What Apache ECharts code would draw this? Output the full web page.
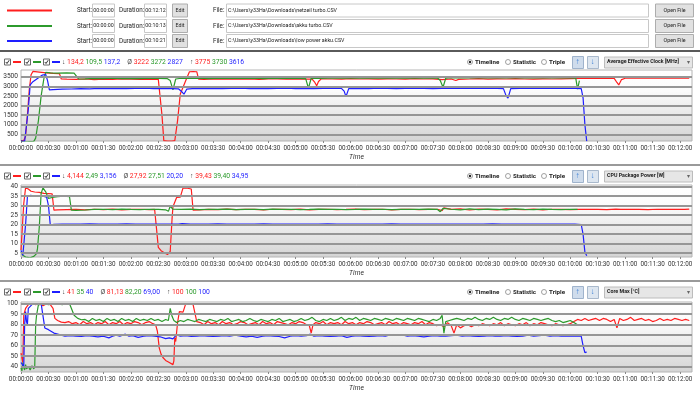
<!DOCTYPE html>
<html><head><meta charset="utf-8">
<script src="https://cdn.jsdelivr.net/npm/echarts@6/dist/echarts.min.js"></script>
<style>html,body{margin:0;padding:0;background:#fff;}#c{width:700px;height:393px;}</style>
</head><body><div id="c"></div>
<script>
// ---------- data ----------
const fileColors = ['#ff1e1e', '#2c9a2c', '#1e1eff'];
const startTimes = ['00:00:00', '00:00:00', '00:00:00'];
const durations = ['00:12:12', '00:10:13', '00:10:21'];
const files = ['C:\\Users\\y33Ha\\Downloads\\netzeil turbo.CSV', 'C:\\Users\\y33Ha\\Downloads\\akku turbo.CSV', 'C:\\Users\\y33Ha\\Downloads\\low power akku.CSV'];

const panelTitles = ['Average Effective Clock [MHz]', 'CPU Package Power [W]', 'Core Max [°C]'];
const clockStats = { min: ['134,2', '109,5', '137,2'], avg: ['3222', '3272', '2827'], max: ['3775', '3730', '3616'] };
const powerStats = { min: ['4,144', '2,49', '3,156'], avg: ['27,92', '27,51', '20,20'], max: ['39,43', '39,40', '34,95'] };
const tempStats = { min: ['41', '35', '40'], avg: ['81,13', '82,20', '69,00'], max: ['100', '100', '100'] };

const clockTicks = [500, 1000, 1500, 2000, 2500, 3000, 3500];
const powerTicks = [5, 10, 15, 20, 25, 30, 35, 40];
const tempTicks = [40, 50, 60, 70, 80, 90, 100];

const clockRed = [[0,170],[3,180],[5,400],[7,1500],[9,2800],[11,3600],[13,3775],[20,3740],[28,3700],[35,3670],[42,3660],[44,3380],[50,3370],[60,3360],[70,3380],[80,3350],[90,3370],[100,3360],[110,3380],[120,3370],[130,3360],[140,3375],[150,3360],[152,3300],[154,1500],[156,170],[160,150],[165,150],[168,170],[171,1200],[174,2600],[177,2950],[180,3300],[184,3760],[188,3770],[192,3760],[194,3370],[200,3360],[210,3380],[220,3370],[230,3390],[240,3370],[250,3380],[260,3360],[270,3390],[280,3380],[290,3370],[300,3380],[310,3370],[318,3380],[321,3200],[323,3030],[325,3250],[328,3390],[340,3380],[350,3370],[360,3400],[370,3380],[380,3390],[390,3370],[400,3390],[410,3380],[420,3370],[430,3400],[440,3380],[450,3390],[460,3350],[470,3380],[475,3300],[478,3360],[490,3380],[500,3400],[510,3370],[520,3390],[530,3380],[540,3400],[550,3380],[560,3370],[570,3390],[580,3380],[590,3390],[600,3400],[610,3410],[620,3420],[630,3410],[640,3420],[648,3410],[651,3200],[653,3070],[656,3350],[660,3420],[670,3430],[680,3420],[690,3430],[700,3420],[710,3430],[720,3420],[730,3430]];
const clockGreen = [[0,150],[3,110],[8,115],[14,130],[16,300],[19,1200],[22,2500],[25,3400],[27,3730],[32,3700],[40,3690],[50,3700],[58,3690],[60,3600],[63,3380],[70,3390],[80,3410],[90,3400],[100,3420],[110,3400],[120,3410],[130,3400],[140,3420],[150,3410],[160,3400],[163,3300],[166,2810],[169,3380],[175,3420],[185,3410],[195,3420],[205,3400],[215,3420],[225,3410],[235,3420],[245,3410],[255,3420],[265,3400],[275,3420],[285,3410],[295,3420],[305,3410],[311,3400],[314,2900],[317,3420],[325,3410],[335,3430],[345,3420],[355,3430],[365,3440],[375,3430],[385,3440],[395,3430],[405,3440],[415,3430],[425,3440],[435,3430],[445,3440],[455,3430],[458,3300],[461,2950],[464,3420],[470,3450],[480,3440],[490,3450],[500,3440],[510,3450],[520,3440],[530,3450],[540,3440],[550,3450],[560,3440],[570,3450],[580,3440],[590,3450],[600,3440],[606,3430],[608,2850],[610,3300]];
const clockBlue = [[0,150],[4,140],[6,137],[8,1800],[10,3070],[13,3240],[18,3410],[23,3580],[27,3616],[29,3300],[31,2810],[35,2830],[45,2850],[55,2860],[65,2880],[75,2870],[85,2890],[95,2880],[105,2890],[115,2880],[125,2890],[135,2900],[145,2880],[155,2890],[165,2880],[172,2870],[176,2700],[178,2590],[181,2850],[190,2890],[200,2880],[210,2890],[220,2880],[230,2890],[240,2900],[250,2880],[260,2890],[270,2880],[280,2890],[290,2900],[300,2880],[310,2890],[320,2880],[330,2890],[340,2900],[350,2890],[353,2750],[355,2460],[358,2880],[370,2890],[380,2880],[390,2900],[400,2890],[410,2880],[420,2890],[430,2900],[440,2890],[450,2880],[460,2890],[470,2900],[480,2890],[490,2900],[500,2890],[510,2900],[520,2890],[527,2880],[530,2500],[532,2380],[535,2880],[545,2890],[555,2900],[565,2890],[575,2900],[585,2890],[595,2900],[605,2890],[612,2880],[614,2400],[616,1000],[618,137]];

const powerRed = [[0,6.6],[2,6.8],[3,31],[5,39.4],[8,38.8],[11,37.6],[15,37.2],[20,37.0],[25,36.5],[30,36.4],[34,36.2],[36,27.6],[40,27.8],[50,27.9],[60,28.0],[70,27.8],[80,28.1],[90,27.9],[100,28.2],[110,27.8],[120,28.0],[130,28.1],[140,27.9],[146,28.0],[148,18],[150,8.0],[153,6.2],[157,5.0],[160,4.2],[163,5.8],[165,23],[166,29.4],[170,34.3],[174,34.5],[177,39.4],[182,39.2],[186,38.8],[188,27.6],[195,27.8],[205,28.0],[215,27.9],[225,28.2],[235,27.9],[245,28.1],[255,28.0],[265,27.8],[275,28.1],[285,28.0],[295,27.9],[305,28.2],[315,27.8],[325,28.0],[335,28.1],[345,27.9],[355,28.0],[365,28.2],[375,27.9],[385,28.0],[395,28.1],[405,27.8],[415,28.0],[425,28.1],[435,27.9],[445,28.0],[455,28.1],[460,27.4],[462,28.8],[470,28.0],[480,28.3],[490,27.7],[500,28.2],[510,28.0],[520,27.8],[530,28.3],[540,28.0],[550,27.9],[560,28.2],[570,27.8],[580,28.1],[590,28.0],[600,27.9],[610,28.0],[620,28.1],[630,28.0],[640,27.9],[650,28.2],[652,29.0],[655,28.0],[665,28.1],[675,28.0],[685,27.9],[695,28.1],[705,28.0],[715,28.1],[725,28.0],[730,28.2]];
const powerGreen = [[0,5.5],[2,3.8],[5,2.9],[10,2.5],[14,3.2],[17,4.7],[18,7.3],[20,18.8],[22,36.5],[24,39.4],[27,37.3],[30,33.8],[34,34.3],[40,34.7],[47,35.0],[53,34.7],[55,27.6],[60,27.5],[70,27.7],[80,28.0],[90,28.1],[100,27.9],[110,28.2],[120,28.0],[130,27.9],[140,28.1],[150,28.0],[158,27.8],[161,27.0],[163,29.7],[166,28.1],[175,28.0],[185,28.2],[195,27.9],[205,28.1],[215,28.0],[225,28.2],[235,27.9],[245,28.0],[255,28.1],[265,27.9],[275,28.2],[285,28.0],[295,28.1],[305,27.9],[315,28.0],[325,28.2],[335,28.0],[345,28.1],[355,27.9],[365,28.0],[375,28.2],[385,28.0],[395,28.1],[405,27.9],[415,28.0],[425,28.1],[435,28.0],[445,28.2],[455,28.0],[458,26.8],[461,28.6],[470,28.1],[480,27.8],[490,28.3],[500,27.9],[510,28.2],[520,28.0],[530,27.8],[540,28.3],[550,28.0],[560,27.9],[570,28.2],[580,28.0],[590,27.9],[600,28.1],[608,28.0]];
const powerBlue = [[0,6.4],[2,3.8],[3,3.2],[5,20],[7,34.7],[10,35.4],[15,35.2],[20,35.0],[25,34.9],[28,34.5],[30,30],[32,19.7],[36,20.1],[45,20.2],[55,20.3],[65,20.2],[75,20.4],[85,20.3],[95,20.2],[105,20.3],[115,20.4],[125,20.2],[135,20.3],[145,20.2],[155,20.3],[165,20.2],[172,20.3],[174,19.3],[176,20.5],[185,20.3],[195,20.2],[205,20.3],[215,20.4],[225,20.2],[235,20.3],[245,20.2],[255,20.3],[265,20.4],[275,20.2],[285,20.3],[295,20.2],[305,20.3],[315,20.2],[325,20.3],[335,20.4],[345,20.2],[355,20.3],[365,20.2],[375,20.3],[385,20.2],[395,20.3],[405,20.4],[415,20.2],[425,20.3],[435,20.2],[445,20.3],[455,20.2],[465,20.3],[475,20.2],[485,20.3],[495,20.2],[505,20.3],[515,20.4],[525,20.2],[535,20.3],[545,20.2],[555,20.3],[565,20.2],[575,20.3],[585,20.2],[595,20.3],[605,20.2],[612,20.0],[614,15],[616,5.5],[618,3.5]];

const tempRed = [[0,53],[1,52],[2,44],[3,89],[5,95.6],[8,99],[12,100],[16,99],[20,100],[24,98],[28,100],[32,99],[35,95.6],[37,86],[40,84],[44,82.5],[48,82],[52,83],[56,81],[60,82],[64,80],[68,83],[72,81],[76,82],[80,80],[84,82],[88,81],[92,83],[96,80],[100,82],[104,81],[108,83],[112,80],[116,82],[120,81],[124,83],[128,82],[132,80],[136,82],[140,83],[144,81],[147,80],[149,73.8],[151,58],[153,52],[155,48.8],[158,46],[162,44],[166,42],[167,45.6],[168,67.5],[169,64],[171,81.6],[173,92.5],[175,91],[177,92],[180,100],[184,100],[188,99],[190,100],[192,83],[196,82],[200,80],[204,83],[208,81],[212,82],[216,80],[220,83],[224,81],[228,82],[232,80],[236,81],[240,83],[244,82],[248,80],[252,81],[256,82],[260,80],[264,83],[268,81],[272,82],[276,80],[280,83],[284,82],[288,81],[292,80],[296,82],[300,81],[304,83],[308,82],[312,80],[315,79],[317,72],[319,80],[322,82],[326,81],[330,83],[334,80],[338,82],[342,81],[346,82],[350,80],[354,83],[358,81],[362,82],[366,80],[370,82],[374,81],[378,83],[382,82],[386,80],[390,81],[394,82],[398,80],[402,83],[406,81],[410,82],[414,80],[418,82],[422,81],[426,80],[430,82],[434,81],[438,83],[442,80],[446,82],[450,81],[454,79],[458,80],[462,78],[466,82],[470,79],[473,72],[476,80],[480,77],[484,79],[488,80],[492,78],[496,80],[500,79],[504,81],[508,80],[512,79],[516,81],[520,80],[524,82],[528,79],[532,81],[536,80],[540,79],[544,81],[548,80],[552,82],[556,79],[560,81],[564,80],[568,82],[572,81],[576,80],[580,79],[584,81],[588,80],[592,79],[596,80],[600,81],[604,83],[608,85],[612,84],[616,86],[620,84],[624,85],[628,86],[632,84],[636,86],[640,85],[644,83],[648,85],[651,77],[654,86],[658,84],[662,85],[666,87],[670,84],[674,85],[678,86],[682,84],[686,85],[690,83],[694,84],[698,86],[702,84],[706,85],[710,84],[714,86],[718,85],[722,84],[726,85],[730,84]];
const tempGreen = [[0,39],[1,36],[2,44],[3,39],[4,37],[5,42],[6,38],[8,40],[10,37],[12,41],[14,38],[15,40],[16,80],[17,89],[19,98.8],[21,100],[25,100],[30,99],[35,100],[40,100],[45,99],[50,100],[53,100],[55,95.6],[58,89],[62,86],[66,84.7],[70,85],[74,83],[78,86],[82,84],[86,85],[90,83],[94,86],[98,84],[102,85],[106,83],[110,86],[114,84],[118,85],[122,83],[126,86],[130,84],[134,85],[138,84],[142,86],[146,84],[150,85],[154,83],[158,85],[161,84],[163,95.6],[165,88],[167,84],[170,82],[174,84],[178,83],[182,85],[186,84],[190,83],[194,85],[198,84],[202,83],[206,85],[210,84],[214,83],[218,85],[222,84],[226,86],[230,83],[234,84],[238,85],[242,83],[246,84],[250,86],[254,84],[258,83],[262,85],[266,84],[270,83],[274,85],[278,84],[282,86],[286,83],[290,84],[294,85],[298,83],[302,84],[306,86],[310,84],[314,85],[318,87],[322,84],[326,83],[330,85],[334,84],[338,86],[342,84],[346,85],[350,87],[354,84],[358,86],[362,85],[366,87],[370,84],[374,86],[378,85],[382,84],[386,86],[390,85],[394,84],[398,86],[402,85],[406,84],[410,86],[414,85],[418,84],[422,86],[426,85],[430,84],[434,86],[438,85],[442,84],[446,83],[450,85],[454,84],[458,86],[460,89],[462,72],[464,83],[468,84],[472,85],[476,86],[480,85],[484,84],[488,86],[492,85],[496,87],[500,85],[504,84],[508,86],[512,85],[516,87],[520,85],[524,84],[528,86],[532,85],[536,87],[540,85],[544,84],[548,86],[552,85],[556,84],[560,86],[564,85],[568,84],[572,85],[576,86],[580,84],[584,83],[588,84],[592,82],[596,83],[600,84],[604,82],[608,80]];
const tempBlue = [[0,44],[1,43],[2,42.5],[3,40],[4,80],[5,92.5],[6,83],[7,80],[8,95.6],[10,97],[13,100],[18,100],[22,100],[24,99],[26,76.9],[30,75.3],[36,72],[42,70.6],[48,69],[54,69.5],[60,69],[66,68.8],[72,69.5],[78,69],[84,68.5],[90,69],[96,67.5],[100,69],[104,70],[108,69],[114,71],[118,69],[122,69.5],[128,68],[134,69],[140,69.5],[146,69],[152,68.5],[158,66.8],[162,67.5],[166,66.5],[170,70.6],[174,69],[180,69.5],[186,68.8],[192,69],[198,69.5],[204,69],[210,68.8],[216,69],[222,69.5],[228,69],[234,70],[240,69],[246,68.5],[252,69],[258,68],[264,69],[270,69.5],[276,69],[282,68.8],[288,67.5],[294,69],[300,69.5],[306,69],[312,69.5],[316,71],[320,69],[326,69.5],[332,69],[338,68.8],[344,69],[350,69.5],[356,68],[362,69],[368,69.5],[374,69],[380,68.8],[386,69],[392,69.5],[398,69],[404,70.5],[410,70],[416,70.5],[422,69],[428,69.5],[434,69],[440,68.5],[446,69],[452,69.5],[458,69],[464,69],[470,69.5],[476,70],[482,69],[488,69.5],[494,69],[500,68.8],[506,69],[512,69.5],[518,69],[524,69],[530,69.5],[536,69],[542,68.8],[548,69],[554,70],[560,69],[566,69.5],[572,70],[578,69],[584,69.5],[590,69],[596,69],[602,69],[608,69],[612,69],[614,60],[616,53.4],[618,54]];

// ---------- layout ----------
const FONT = 'Roboto, "Noto Sans", sans-serif';
const panels = [
  { top: 70, height: 71, ymin: 150, ymax: 3850, ticks: clockTicks, series: [clockRed, clockGreen, clockBlue], stats: clockStats, title: panelTitles[0], legendY: 62 },
  { top: 185, height: 72, ymin: 2.9, ymax: 40.9, ticks: powerTicks, series: [powerRed, powerGreen, powerBlue], stats: powerStats, title: panelTitles[1], legendY: 176 },
  { top: 302, height: 71, ymin: 35, ymax: 101.6, ticks: tempTicks, series: [tempRed, tempGreen, tempBlue], stats: tempStats, title: panelTitles[2], legendY: 292 }
];
const X_MAX = 733;

function hms(s) {
  const h = Math.floor(s / 3600), m = Math.floor((s % 3600) / 60), sec = Math.round(s % 60);
  const p = n => String(n).padStart(2, '0');
  return p(h) + ':' + p(m) + ':' + p(sec);
}

const grids = [], xAxes = [], yAxes = [], series = [];
const bg = new echarts.graphic.LinearGradient(0, 0, 0, 1, [
  { offset: 0, color: '#ffffff' }, { offset: 0.3, color: '#fbfbfb' }, { offset: 1, color: '#d4d4d4' }
]);
panels.forEach((p, i) => {
  grids.push({ left: 21, right: 8, top: p.top, height: p.height, show: true, backgroundColor: bg, borderColor: '#b4b4b4', borderWidth: 1 });
  xAxes.push({
    gridIndex: i, type: 'value', min: 0, max: X_MAX, interval: 30,
    axisLine: { show: false }, axisTick: { show: true, length: 2, lineStyle: { color: '#888' } }, splitLine: { show: false },
    axisLabel: { fontSize: 6.3, color: '#333', margin: 4, fontFamily: FONT, formatter: v => hms(v), showMinLabel: true, showMaxLabel: false, hideOverlap: false },
    name: 'Time', nameLocation: 'middle', nameGap: 13,
    nameTextStyle: { fontSize: 6.8, fontStyle: 'italic', color: '#333', fontFamily: FONT }
  });
  yAxes.push({
    gridIndex: i, type: 'value', min: p.ymin, max: p.ymax,
    axisLine: { show: false }, axisTick: { show: false }, splitLine: { show: false },
    axisLabel: { customValues: p.ticks, fontSize: 6.6, color: '#333', margin: 3, fontFamily: FONT, formatter: v => String(v) }
  });
  series.push({
    type: 'line', xAxisIndex: i, yAxisIndex: i, z: 1, silent: true, showSymbol: false,
    data: [[0, p.ymin]], lineStyle: { opacity: 0 },
    markLine: { silent: true, symbol: 'none', animation: false, label: { show: false },
      lineStyle: { color: '#969696', width: 2, type: 'solid' },
      data: p.ticks.map(v => ({ yAxis: v })) }
  });
  p.series.forEach((d, k) => {
    series.push({
      type: 'line', xAxisIndex: i, yAxisIndex: i, z: 3, data: d, showSymbol: false,
      lineStyle: { color: fileColors[k], width: 1.2 }, itemStyle: { color: fileColors[k] }, animation: false
    });
  });
});

// ---------- graphic UI ----------
const g = [];
function txt(x, y, s, o) {
  g.push({ type: 'text', x: x, y: y, silent: true, z: 100,
    style: Object.assign({ text: s, fill: '#222', font: '6.3px ' + FONT, textVerticalAlign: 'middle', verticalAlign: 'middle', textAlign: 'left', align: 'left' }, o || {}) });
}
function rect(x, y, w, h, fill, stroke) {
  g.push({ type: 'rect', silent: true, z: 99, shape: { x: x + 0.5, y: y + 0.5, width: w, height: h }, style: { fill: fill, stroke: stroke, lineWidth: 1 } });
}
function hline(x1, x2, y, c, w) {
  g.push({ type: 'line', silent: true, z: 99, shape: { x1: x1, y1: y, x2: x2, y2: y }, style: { stroke: c, lineWidth: w } });
}
// header rows
const rowY = [10.5, 26, 41];
const small = '5.3px ' + FONT;
rowY.forEach((y, k) => {
  hline(7, 52, y, fileColors[k], 2);
  txt(77, y, 'Start:');
  rect(92, y - 7, 22, 13, '#fff', '#c8c8c8');
  txt(103.5, y, startTimes[k], { font: small, textAlign: 'center', align: 'center' });
  txt(119, y, 'Duration:');
  rect(144, y - 7, 22, 13, '#fff', '#c8c8c8');
  txt(155.5, y, durations[k], { font: small, textAlign: 'center', align: 'center' });
  rect(172, y - 7, 15, 13, '#e1e1e1', '#adadad');
  txt(180, y, 'Edit', { font: small, textAlign: 'center', align: 'center' });
  txt(213, y, 'File:');
  rect(226, y - 7, 422, 13, '#fff', '#c8c8c8');
  txt(228, y, files[k], { font: small });
  rect(655, y - 7, 38, 13, '#e1e1e1', '#adadad');
  txt(674.5, y, 'Open File', { font: small, textAlign: 'center', align: 'center' });
});
hline(0, 700, 51, '#5a5a5a', 2);
hline(0, 700, 165, '#9a9a9a', 2);
hline(0, 700, 281, '#9a9a9a', 2);

function checkbox(x, y) {
  rect(x, y - 3.5, 6, 6, '#fff', '#6a6a6a');
  g.push({ type: 'polyline', silent: true, z: 101, shape: { points: [[x + 1.8, y], [x + 3, y + 1.5], [x + 5.2, y - 1.8]] }, style: { stroke: '#333', lineWidth: 1, fill: null } });
}
panels.forEach(p => {
  const y = p.legendY;
  const xs = [4, 24, 43];
  xs.forEach((x, k) => { checkbox(x, y); hline(x + 9, x + 17, y, fileColors[k], 2); });
  const s = p.stats;
  const grp = (sym, arr) => '{k|' + sym + '} {r|' + arr[0] + '} {g|' + arr[1] + '} {b|' + arr[2] + '}';
  const richBase = { fontSize: 6.8, fontFamily: FONT };
  g.push({ type: 'text', x: 62, y: y, silent: true, z: 100,
    style: { text: grp('↓', s.min) + '{s| }' + grp('Ø', s.avg) + '{s| }' + grp('↑', s.max),
      font: '6.8px ' + FONT, textVerticalAlign: 'middle', verticalAlign: 'middle',
      rich: {
        k: Object.assign({ color: '#444', fill: '#444' }, richBase),
        r: Object.assign({ color: fileColors[0], fill: fileColors[0] }, richBase),
        g: Object.assign({ color: fileColors[1], fill: fileColors[1] }, richBase),
        b: Object.assign({ color: fileColors[2], fill: fileColors[2] }, richBase),
        s: { width: 7 }
      } } });
  // radios
  const radio = (cx, on) => {
    g.push({ type: 'circle', silent: true, z: 100, shape: { cx: cx, cy: y, r: 2.5 }, style: { fill: '#fff', stroke: '#8a8a8a', lineWidth: 0.8 } });
    if (on) g.push({ type: 'circle', silent: true, z: 101, shape: { cx: cx, cy: y, r: 1.2 }, style: { fill: '#222' } });
  };
  const bold = 'bold 6.2px ' + FONT;
  radio(470, true); txt(475, y, 'Timeline', { font: bold });
  radio(508, false); txt(513, y, 'Statistic', { font: bold });
  radio(544, false); txt(549, y, 'Triple', { font: bold });
  // arrow buttons
  rect(572, y - 6, 11, 12, '#cfdcec', '#9fb3cc');
  txt(577.5, y, '↑', { font: 'bold 8px ' + FONT, fill: '#3a7fd5', textAlign: 'center', align: 'center' });
  rect(587, y - 6, 11, 12, '#dde6f0', '#a9b9cc');
  txt(592.5, y, '↓', { font: 'bold 8px ' + FONT, fill: '#3a7fd5', textAlign: 'center', align: 'center' });
  // dropdown
  rect(604, y - 5.5, 88, 11, '#e6e6e6', '#bcbcbc');
  txt(607, y, p.title, { font: 'bold 5.3px ' + FONT });
  txt(688, y, '▾', { font: '6px ' + FONT, fill: '#666', textAlign: 'center', align: 'center' });
});

const chart = echarts.init(document.getElementById('c'), null, { renderer: 'canvas' });
chart.setOption({
  animation: false, backgroundColor: '#ffffff',
  grid: grids, xAxis: xAxes, yAxis: yAxes, series: series, graphic: { elements: g }
});
</script></body></html>
